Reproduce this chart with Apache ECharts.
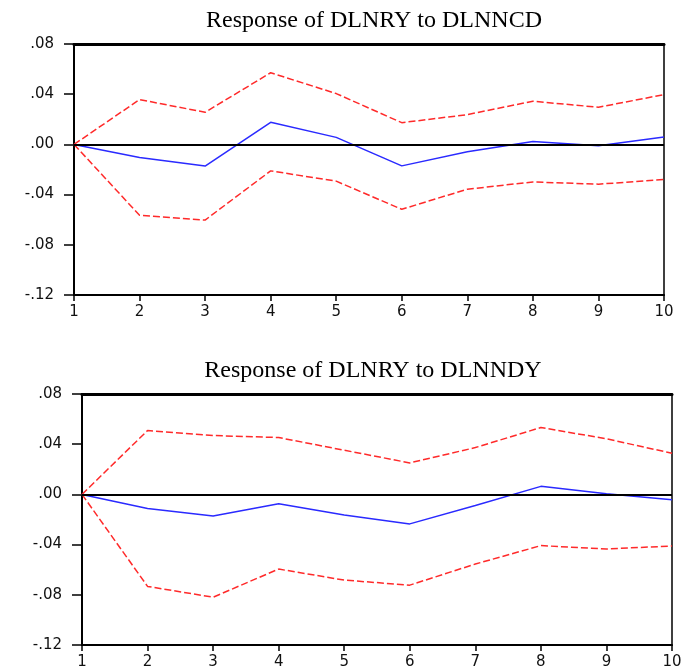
<!DOCTYPE html>
<html><head><meta charset="utf-8">
<script src="https://cdn.jsdelivr.net/npm/echarts@6/dist/echarts.min.js"></script>
<style>html,body{margin:0;padding:0;background:#fff}#c{width:685px;height:671px}</style>
</head><body><div id="c"></div>
<script>
var periods = [1,2,3,4,5,6,7,8,9,10];
var yTicks = [-0.12,-0.08,-0.04,0.00,0.04,0.08];
var titleTop = "Response of DLNRY to DLNNCD";
var titleBottom = "Response of DLNRY to DLNNDY";

var ncdResponse = [0, -0.0104, -0.0173, 0.0176, 0.0056, -0.0171, -0.0059, 0.0024, -0.0010, 0.0059];
var ncdUpper    = [0, 0.0357, 0.0256, 0.0571, 0.0405, 0.0173, 0.0237, 0.0344, 0.0296, 0.0397];
var ncdLower    = [0, -0.0565, -0.0603, -0.0211, -0.0293, -0.0517, -0.0357, -0.0299, -0.0317, -0.0280];

var ndyResponse = [0, -0.0112, -0.0173, -0.0075, -0.0165, -0.0235, -0.0088, 0.0064, 0.0005, -0.0043];
var ndyUpper    = [0, 0.0509, 0.0469, 0.0453, 0.0352, 0.0251, 0.0373, 0.0533, 0.0443, 0.0328];
var ndyLower    = [0, -0.0733, -0.0819, -0.0595, -0.0683, -0.0723, -0.0555, -0.0408, -0.0435, -0.0411];

function pairs(arr){ return periods.map(function(p,i){ return [p, arr[i]]; }); }
function fmtY(v){
  var s = (Math.round(v*100)/100).toFixed(2);
  return s.replace('0.', '.');
}
var labelFont = {fontFamily:'DejaVu Sans', fontSize:15, color:'#111'};

function xAxes(gi){
  return [{
    type:'value', gridIndex:gi, min:1, max:10, interval:1, position:'bottom',
    axisLine:{show:true, onZero:false, lineStyle:{color:'#000', width:2}},
    axisTick:{show:true, length:6, lineStyle:{color:'#000', width:1.5}},
    axisLabel:Object.assign({margin:10}, labelFont),
    splitLine:{show:false}
  },{
    type:'value', gridIndex:gi, min:1, max:10, position:'top',
    axisLine:{show:true, onZero:false, lineStyle:{color:'#000', width:3}},
    axisTick:{show:false}, axisLabel:{show:false}, splitLine:{show:false}
  }];
}
function yAxis(gi){
  return {
    type:'value', gridIndex:gi, min:yTicks[0], max:yTicks[yTicks.length-1], interval:0.04,
    axisLine:{show:true, onZero:false, lineStyle:{color:'#000', width:2}},
    axisTick:{show:true, length:10, lineStyle:{color:'#000', width:1.5}},
    axisLabel:Object.assign({margin:20, formatter:fmtY}, labelFont),
    splitLine:{show:false}
  };
}
function seriesFor(gi, resp, up, lo){
  var xi = gi*2;
  var red = {type:'line', xAxisIndex:xi, yAxisIndex:gi, symbol:'none', silent:true,
    lineStyle:{color:'#ff2a2a', width:1.5, type:[7,3]}};
  return [
    Object.assign({}, red, {data:pairs(up)}),
    Object.assign({}, red, {data:pairs(lo)}),
    {type:'line', xAxisIndex:xi, yAxisIndex:gi, symbol:'none', silent:true, data:pairs(resp),
     lineStyle:{color:'#2a2aff', width:1.5}, z:3,
     markLine:{silent:true, symbol:'none', label:{show:false}, animation:false,
       lineStyle:{color:'#000', width:2, type:'solid'}, data:[{yAxis:0}]}}
  ];
}

var chart = echarts.init(document.getElementById('c'));
chart.setOption({
  animation:false,
  title:[
    {text:titleTop, left:369, top:4, textAlign:'center',
     textStyle:{fontFamily:'Liberation Serif', fontSize:24, fontWeight:'normal', color:'#000'}},
    {text:titleBottom, left:368, top:354, textAlign:'center',
     textStyle:{fontFamily:'Liberation Serif', fontSize:24, fontWeight:'normal', color:'#000'}}
  ],
  grid:[
    {left:74, right:21, top:44, height:251, show:true, borderColor:'#000', borderWidth:1.5, backgroundColor:'transparent'},
    {left:82, right:13, top:394, height:251, show:true, borderColor:'#000', borderWidth:1.5, backgroundColor:'transparent'}
  ],
  xAxis: xAxes(0).concat(xAxes(1)),
  yAxis:[yAxis(0), yAxis(1)],
  series: seriesFor(0, ncdResponse, ncdUpper, ncdLower).concat(seriesFor(1, ndyResponse, ndyUpper, ndyLower))
});
</script></body></html>
